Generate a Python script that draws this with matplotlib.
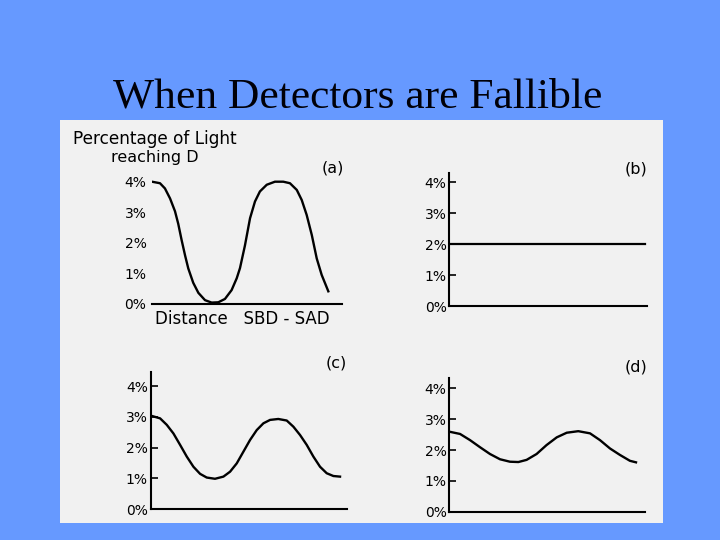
import matplotlib.pyplot as plt
from matplotlib.patches import Rectangle

# values (x: 0-100 along each axis, y: percent)
xa = [0, 4.2, 6.8, 9.5, 12.1, 13.8, 15.6, 17.4, 19.1, 21.7, 24.4, 27.9, 31.4, 34.9,
      38.4, 41.9, 44.6, 46.3, 48.9, 51.6, 54.2, 56.8, 60.4, 64.7, 69.1, 72.6, 76.2,
      78.8, 81.4, 84.1, 86.7, 89.3, 92.8]
ya = [4.0, 3.95, 3.78, 3.45, 3.03, 2.62, 2.08, 1.58, 1.15, 0.68, 0.35, 0.11, 0.03, 0.04,
      0.15, 0.44, 0.83, 1.16, 1.90, 2.80, 3.35, 3.68, 3.90, 4.0, 4.0, 3.95, 3.73,
      3.40, 2.91, 2.25, 1.48, 0.94, 0.40]

xb = [0, 99]
yb = [2, 2]

xc = [0.5, 4.8, 8.2, 11.6, 15.0, 18.4, 21.8, 25.2, 28.6, 32.8, 37.1, 40.5, 43.9, 47.3,
      50.7, 54.1, 57.5, 60.9, 65.1, 69.4, 72.8, 76.2, 79.6, 83.0, 86.4, 89.8, 93.2, 96.6]
yc = [3.03, 2.95, 2.74, 2.46, 2.09, 1.71, 1.38, 1.15, 1.03, 0.99, 1.06, 1.22, 1.49, 1.87,
      2.25, 2.57, 2.79, 2.90, 2.93, 2.88, 2.68, 2.41, 2.09, 1.71, 1.38, 1.17, 1.08, 1.06]

xd = [0.3, 5.5, 10.6, 15.7, 20.8, 25.9, 31.0, 35.3, 39.5, 44.6, 49.7, 54.9, 60.0, 65.9,
      71.9, 77.0, 82.1, 87.2, 92.3, 95.4]
yd = [2.59, 2.52, 2.32, 2.09, 1.87, 1.70, 1.62, 1.61, 1.68, 1.87, 2.16, 2.41, 2.56, 2.61,
      2.54, 2.32, 2.05, 1.84, 1.65, 1.60]

yticks = [0, 1, 2, 3, 4]
ytick_labels = ["0%", "1%", "2%", "3%", "4%"]
panel_labels = ["(a)", "(b)", "(c)", "(d)"]

W, H = 720, 540
BLUE = "#6699ff"
PAPER = "#f1f1f1"

fig = plt.figure(figsize=(W / 100, H / 100), dpi=100, facecolor=BLUE)


def px_axes(left, bottom0, right, top4, ytop):
    # left/right: x pixels of the axis line; bottom0/top4: y pixels of 0% and 4%
    per = (bottom0 - top4) / 4.0
    height = per * ytop
    ax = fig.add_axes([left / W, 1 - bottom0 / H, (right - left) / W, height / H])
    ax.set_facecolor("none")
    ax.set_xlim(0, 100)
    ax.set_ylim(0, ytop)
    ax.set_xticks([])
    ax.set_yticks(yticks)
    ax.set_yticklabels(ytick_labels)
    for s in ["top", "right"]:
        ax.spines[s].set_visible(False)
    for s in ["left", "bottom"]:
        ax.spines[s].set_linewidth(1.5)
        ax.spines[s].set_color("black")
    ax.tick_params(axis="y", direction="in", length=5, width=1.2,
                   labelsize=10, pad=2)
    return ax


# scanned page background
fig.patches.append(Rectangle((60 / W, 1 - 523 / H), 603 / W, 403 / H,
                             transform=fig.transFigure, facecolor=PAPER,
                             edgecolor="none", zorder=-10))

fig.text(358 / W, 1 - 108 / H, "When Detectors are Fallible",
         family="Liberation Serif", fontsize=31.3, ha="center", va="baseline",
         color="#000008")

# (a)
ax_a = px_axes(152, 303.5, 342, 181.7, 4.3)
ax_a.spines["left"].set_visible(False)
ax_a.tick_params(axis="y", length=0, pad=4)
ax_a.plot(xa, ya, color="black", lw=1.7, solid_joinstyle="round")

# (b)
ax_b = px_axes(449.3, 306, 647, 182.3, 4.3)
ax_b.plot(xb, yb, color="black", lw=1.6)

# (c)
ax_c = px_axes(150.7, 509.3, 346.7, 386, 4.47)
ax_c.plot(xc, yc, color="black", lw=1.7, solid_joinstyle="round")

# (d)
ax_d = px_axes(449.3, 511.7, 645, 388.3, 4.33)
ax_d.plot(xd, yd, color="black", lw=1.7, solid_joinstyle="round")

fig.text(73 / W, 1 - 139 / H, "Percentage of Light", fontsize=12.2,
         ha="left", va="center")
fig.text(155 / W, 1 - 157.5 / H, "reaching D", fontsize=11.5,
         ha="center", va="center")
fig.text(242 / W, 1 - 318.5 / H, "Distance   SBD - SAD", fontsize=12,
         ha="center", va="center")

label_pos = [(332.5, 168), (636.5, 169), (336, 363), (636, 367)]
for lab, (lx, ly) in zip(panel_labels, label_pos):
    fig.text(lx / W, 1 - ly / H, lab, fontsize=11.5, ha="center", va="center")

fig.savefig("out.png", dpi=100, facecolor=BLUE)
